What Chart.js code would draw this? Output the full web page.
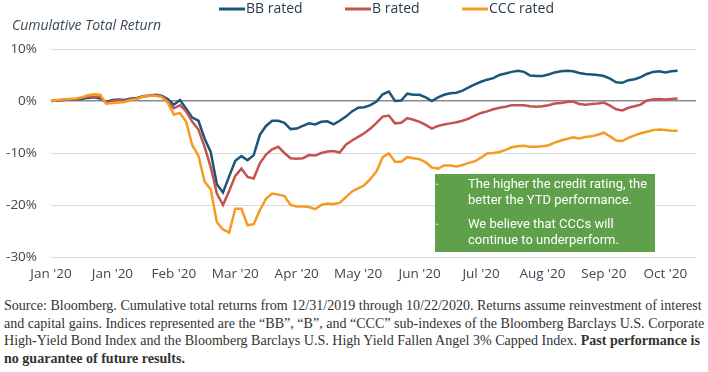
<!DOCTYPE html>
<html>
<head>
<meta charset="utf-8">
<script src="https://cdn.jsdelivr.net/npm/chart.js@4.4.0/dist/chart.umd.min.js"></script>
<style>
  body { margin: 0; background: #fff; }
  #wrap { position: relative; width: 708px; height: 372px; overflow: hidden; }
  #chart { position: absolute; left: 0; top: 0; }
  #source {
    position: absolute; left: 4px; top: 297px;
    font-family: "Liberation Serif", "DejaVu Serif", serif;
    font-size: 15px; line-height: 17.6px; color: #333;
    white-space: nowrap;
  }
</style>
</head>
<body>
<div id="wrap">
  <canvas id="chart" width="708" height="290"></canvas>
  <div id="source">
    <span id="line1">Source: Bloomberg. Cumulative total returns from 12/31/2019 through 10/22/2020. Returns assume reinvestment of interest</span><br>
    and capital gains. Indices represented are the “BB”, “B”, and “CCC” sub-indexes of the Bloomberg Barclays U.S. Corporate<br>
    High-Yield Bond Index and the Bloomberg Barclays U.S. High Yield Fallen Angel 3% Capped Index. <b>Past performance is</b><br>
    <b>no guarantee of future results.</b>
  </div>
</div>
<script>
// month tick labels, one every 20 trading days (data sampled every 2 trading days)
var monthTicks = ["Jan '20", "Jan '20", "Feb '20", "Mar '20", "Apr '20", "May '20",
                  "Jun '20", "Jul '20", "Aug '20", "Sep '20", "Oct '20"];
var seriesNames = ['BB rated', 'B rated', 'CCC rated'];
var seriesColors = ['#1a5676', '#c4524e', '#f59a23'];

// cumulative total return, %
var bbRated = [
  0, 0.1, 0.2, 0.3, 0.3, 0.4, 0.6, 0.7, 0.5, -0.2,
  0.2, 0.3, 0.2, 0.5, 0.6, 0.9, 1.0, 1.2, 1.0, 0.4,
  -0.7, 0.2, -1.5, -3.2, -3.8, -7.2, -9.8, -16.0, -17.6, -14.5,
  -11.5, -10.6, -11.4, -10.4, -6.5, -4.8, -3.8, -3.8, -4.2, -5.4,
  -5.3, -4.8, -4.3, -4.5, -4.0, -3.9, -4.5, -3.8, -3.0, -2.0,
  -1.3, -1.2, -0.8, -0.1, 1.3, 1.8, 0.0, 0.1, 1.4, 1.2,
  1.2, 0.7, 0.0, 0.7, 1.2, 1.5, 1.6, 2.0, 2.6, 3.2,
  3.7, 4.1, 4.4, 5.0, 5.3, 5.6, 5.8, 5.6, 4.9, 4.8,
  4.8, 5.1, 5.5, 5.7, 5.8, 5.7, 5.4, 5.2, 5.1, 5.0,
  4.8, 4.3, 3.6, 3.5, 4.0, 4.2, 4.6, 5.2, 5.6, 5.7,
  5.5, 5.7, 5.8
];
var bRated = [
  0, 0.1, 0.2, 0.3, 0.4, 0.6, 0.8, 0.8, 0.8, -0.4,
  0.0, 0.2, 0.0, 0.4, 0.5, 0.9, 1.0, 1.1, 0.9, 0.0,
  -1.4, -0.8, -2.0, -4.0, -5.5, -8.8, -12.7, -17.8, -20.0, -17.3,
  -14.4, -13.0, -14.6, -14.9, -12.0, -10.3, -9.3, -8.8, -10.0, -11.0,
  -11.1, -11.0, -10.4, -10.5, -10.0, -9.7, -9.6, -9.9, -8.4, -7.6,
  -6.9, -6.2, -5.3, -4.2, -3.0, -2.8, -4.3, -4.2, -3.3, -3.6,
  -4.0, -4.6, -5.3, -4.8, -4.5, -4.3, -4.1, -3.8, -3.4, -2.8,
  -2.3, -2.0, -1.6, -1.3, -1.1, -0.8, -0.8, -0.8, -1.0, -1.1,
  -1.0, -0.8, -0.5, -0.4, -0.2, -0.1, -0.6, -0.7, -0.6, -0.5,
  -0.3, -0.9, -1.6, -1.8, -1.3, -1.0, -0.7, 0.1, 0.3, 0.4,
  0.3, 0.4, 0.5
];
var cccRated = [
  0, 0.2, 0.3, 0.4, 0.5, 0.7, 1.1, 1.3, 1.2, -0.5,
  -0.4, -0.3, -0.2, 0.2, 0.4, 0.8, 1.0, 1.0, 0.8, -0.3,
  -2.6, -2.3, -4.0, -8.5, -10.5, -15.5, -17.0, -23.3, -24.7, -25.3,
  -20.7, -20.7, -23.9, -23.7, -21.0, -18.8, -17.8, -18.0, -18.3, -20.0,
  -20.3, -20.3, -20.4, -20.8, -20.0, -19.7, -19.8, -19.6, -18.5, -17.4,
  -16.8, -16.2, -15.0, -13.5, -10.8, -10.1, -11.7, -11.7, -10.8, -11.0,
  -11.2, -11.8, -12.8, -13.0, -12.4, -12.4, -12.6, -12.3, -11.9, -11.6,
  -10.9, -10.1, -10.0, -9.8, -9.4, -8.9, -8.7, -8.6, -8.8, -8.8,
  -8.7, -8.5, -8.0, -7.6, -7.3, -7.0, -7.2, -6.9, -6.8, -6.5,
  -6.1, -6.8, -7.6, -7.7, -7.1, -6.6, -6.2, -5.9, -5.6, -5.5,
  -5.6, -5.7, -5.7
];
var yTicks = [10, 0, -10, -20, -30];
var boxLines = [
  ['The higher the credit rating, the', 'better the YTD performance.'],
  ['We believe that CCCs will', 'continue to underperform.']
];

// category slots: data points plus a few empty slots so the axis runs past the last date
var categories = [];
for (var i = 0; i < 106; i++) {
  categories.push(i % 10 === 0 ? monthTicks[i / 10] : '');
}

var sans = "'Open Sans', 'Noto Sans', sans-serif";
var boxFont = "Roboto, 'Open Sans', sans-serif";
var textColor = '#3b4954';

var overlay = {
  id: 'overlay',
  afterDraw: function(chart) {
    var ctx = chart.ctx;
    ctx.save();
    // axis caption
    ctx.fillStyle = textColor;
    ctx.font = "italic 14px " + sans;
    ctx.textBaseline = 'middle';
    ctx.textAlign = 'left';
    ctx.fillText('Cumulative Total Return', 12, 26);

    // legend
    var legendX = [219, 345, 462];
    ctx.font = "14px " + sans;
    chart.data.datasets.forEach(function(ds, k) {
      ctx.strokeStyle = ds.borderColor;
      ctx.lineWidth = 3;
      ctx.beginPath();
      ctx.moveTo(legendX[k], 9);
      ctx.lineTo(legendX[k] + 26, 9);
      ctx.stroke();
      ctx.fillStyle = '#2a3a48';
      ctx.fillText(ds.label, legendX[k] + 27, 9);
    });

    // green note box
    ctx.fillStyle = '#5fa04a';
    ctx.fillRect(435, 174, 220, 78);
    ctx.fillStyle = '#ffffff';
    var y = 185;
    boxLines.forEach(function(group) {
      ctx.font = "7px " + boxFont;
      ctx.fillText('•', 436, y);
      ctx.font = "13px " + boxFont;
      group.forEach(function(t) {
        ctx.fillText(t, 468, y);
        y += 15.5;
      });
      y += 9;
    });
    ctx.restore();
  }
};

var ctx = document.getElementById('chart').getContext('2d');
var myChart = new Chart(ctx, {
  type: 'line',
  data: {
    labels: categories,
    datasets: [
      { label: seriesNames[0], data: bbRated, borderColor: seriesColors[0], order: 2 },
      { label: seriesNames[1], data: bRated, borderColor: seriesColors[1], order: 1 },
      { label: seriesNames[2], data: cccRated, borderColor: seriesColors[2], order: 0 }
    ]
  },
  options: {
    responsive: false,
    animation: false,
    layout: { padding: { top: 49, right: 12, left: 0, bottom: 0 } },
    elements: {
      line: { borderWidth: 2.5, tension: 0 },
      point: { radius: 0 }
    },
    plugins: {
      legend: { display: false },
      tooltip: { enabled: false }
    },
    scales: {
      x: {
        type: 'category',
        offset: false,
        grid: { display: false, drawTicks: false },
        border: { display: false },
        ticks: {
          autoSkip: false, maxRotation: 0, padding: 9,
          color: textColor, font: { family: sans, size: 13.5 }
        },
        afterFit: function(scale) { scale.height = 33; }
      },
      y: {
        min: -30, max: 10,
        afterBuildTicks: function(scale) {
          scale.ticks = yTicks.map(function(v) { return { value: v }; });
        },
        grid: {
          drawTicks: false,
          color: function(c) { return c.tick && c.tick.value === 0 ? '#8a8a8a' : '#dcdcdc'; },
          lineWidth: function(c) { return c.tick && c.tick.value === 0 ? 1.5 : 1; }
        },
        border: { display: false },
        ticks: {
          padding: 14, color: textColor, font: { family: sans, size: 13.5 },
          callback: function(v) { return v + '%'; }
        },
        afterFit: function(scale) { scale.width = 51; }
      }
    }
  },
  plugins: [overlay]
});

// fit the source note to the page width
var line1 = document.getElementById('line1');
var src = document.getElementById('source');
var w = line1.getBoundingClientRect().width;
src.style.fontSize = (15 * 698 / w).toFixed(2) + 'px';
</script>
</body>
</html>
